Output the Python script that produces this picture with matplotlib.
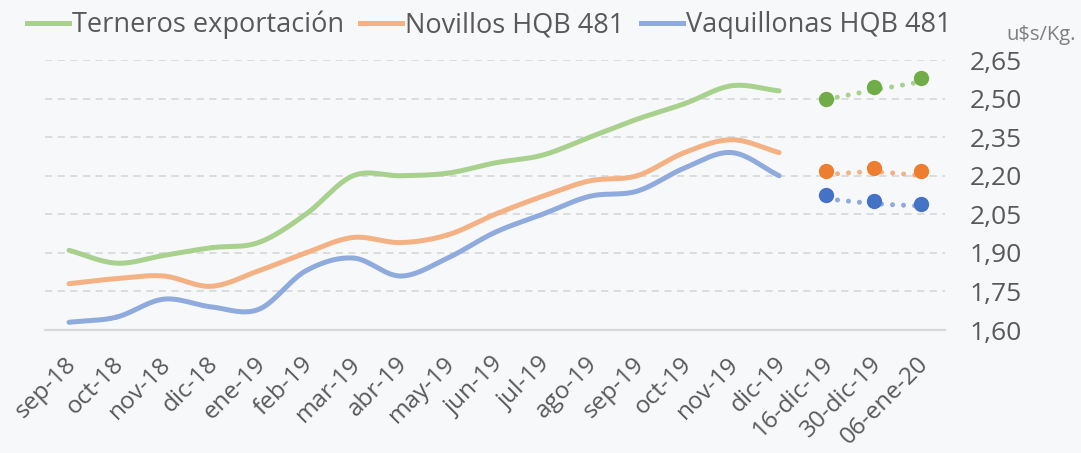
import numpy as np
import matplotlib.pyplot as plt
import matplotlib.transforms as mtransforms
from matplotlib.lines import Line2D

# categorias del eje x
meses = ['sep-18', 'oct-18', 'nov-18', 'dic-18', 'ene-19', 'feb-19', 'mar-19', 'abr-19',
         'may-19', 'jun-19', 'jul-19', 'ago-19', 'sep-19', 'oct-19', 'nov-19', 'dic-19']
semanas = ['16-dic-19', '30-dic-19', '06-ene-20']

# precios mensuales (u$s/Kg.)
terneros = [1.91, 1.86, 1.89, 1.92, 1.94, 2.05, 2.20, 2.20, 2.21, 2.25, 2.28, 2.35, 2.42, 2.48, 2.55, 2.53]
novillos = [1.78, 1.80, 1.81, 1.77, 1.83, 1.90, 1.96, 1.94, 1.97, 2.05, 2.12, 2.18, 2.20, 2.29, 2.34, 2.29]
vaquillonas = [1.63, 1.65, 1.72, 1.69, 1.68, 1.83, 1.88, 1.81, 1.88, 1.98, 2.05, 2.12, 2.14, 2.23, 2.29, 2.20]

# precios semanales (puntos)
terneros_sem = [2.50, 2.545, 2.58]
novillos_sem = [2.22, 2.23, 2.22]
vaquillonas_sem = [2.125, 2.10, 2.09]

# linea punteada semanal
terneros_tend = [2.497, 2.533, 2.565]
novillos_tend = [2.205, 2.215, 2.200]
vaquillonas_tend = [2.110, 2.092, 2.082]

etiquetas = meses + semanas


def suavizar(x, y, n=20):
    # spline tipo catmull-rom (parecido al suavizado de excel)
    x = np.asarray(x, float)
    y = np.asarray(y, float)
    px = np.concatenate([[2 * x[0] - x[1]], x, [2 * x[-1] - x[-2]]])
    py = np.concatenate([[2 * y[0] - y[1]], y, [2 * y[-1] - y[-2]]])
    xs, ys = [], []
    t = np.linspace(0, 1, n)
    for i in range(1, len(px) - 2):
        p0, p1, p2, p3 = py[i - 1], py[i], py[i + 1], py[i + 2]
        q0, q1, q2, q3 = px[i - 1], px[i], px[i + 1], px[i + 2]
        f = lambda a0, a1, a2, a3: 0.5 * ((2 * a1) + (-a0 + a2) * t
                                          + (2 * a0 - 5 * a1 + 4 * a2 - a3) * t ** 2
                                          + (-a0 + 3 * a1 - 3 * a2 + a3) * t ** 3)
        xs.append(f(q0, q1, q2, q3))
        ys.append(f(p0, p1, p2, p3))
    return np.concatenate(xs), np.concatenate(ys)


plt.rcParams['font.family'] = ['Open Sans', 'DejaVu Sans']
gris = '#595959'
fondo = '#F7F8FA'

fig = plt.figure(figsize=(10.81, 4.53), dpi=100, facecolor=fondo)
ax = fig.add_axes([0.042, 0.2715, 0.832, 0.596], facecolor=fondo)

x_mes = np.arange(len(meses))
x_sem = np.arange(len(meses), len(etiquetas))

series = [
    (terneros, terneros_sem, terneros_tend, '#A9D18E', '#70AD47', 'Terneros exportación'),
    (novillos, novillos_sem, novillos_tend, '#F4B183', '#ED7D31', 'Novillos HQB 481'),
    (vaquillonas, vaquillonas_sem, vaquillonas_tend, '#8FAADC', '#4472C4', 'Vaquillonas HQB 481'),
]

for mensual, semanal, tend, claro, oscuro, nombre in series:
    sx, sy = suavizar(x_mes, mensual)
    ax.plot(sx, sy, color=claro, lw=3.6, solid_capstyle='round', zorder=3)
    tx, ty = suavizar(x_sem, tend)
    ax.plot(tx, ty, color=claro, lw=3.6, linestyle=(0, (0.01, 2.2)),
            dash_capstyle='round', zorder=3)
    ax.plot(x_sem, semanal, 'o', color=oscuro, ms=10, zorder=4)

ax.set_xlim(-0.5, len(etiquetas) - 0.5)
ax.set_ylim(1.60, 2.65)
yt = np.arange(1.60, 2.651, 0.15)
ax.set_yticks(yt)
ax.set_yticklabels([f'{v:.2f}'.replace('.', ',') for v in yt])
ax.yaxis.tick_right()
ax.grid(axis='y', color='#D9D9D9', linestyle=(0, (4, 3)), lw=1.3, zorder=0)
for s in ['top', 'left', 'right']:
    ax.spines[s].set_visible(False)
ax.spines['bottom'].set_color('#D9D9D9')
ax.spines['bottom'].set_linewidth(1.6)
ax.tick_params(axis='y', length=0, pad=18, labelsize=19, labelcolor=gris)
ax.tick_params(axis='x', length=0, pad=22, labelsize=17.5, labelcolor=gris)
ax.set_xticks(np.arange(len(etiquetas)))
ax.set_xticklabels(etiquetas, rotation=45, ha='right', va='center', rotation_mode='anchor')
desplaza = mtransforms.ScaledTranslation(0.04, 0, fig.dpi_scale_trans)
for lab in ax.get_xticklabels():
    lab.set_transform(lab.get_transform() + desplaza)

manijas = [Line2D([], [], color=c, lw=3.6) for _, _, _, c, _, _ in series]
fig.legend(manijas, [s[5] for s in series], loc='upper left', bbox_to_anchor=(0.002, 1.03),
           ncol=3, frameon=False, fontsize=19.5, labelcolor=gris, handlelength=1.55,
           handletextpad=0.12, columnspacing=0.6)
fig.text(0.995, 0.922, 'u$s/Kg.', ha='right', va='center', fontsize=14.5, color='#7F7F7F')

fig.savefig('out.png', dpi=100, facecolor=fondo)
